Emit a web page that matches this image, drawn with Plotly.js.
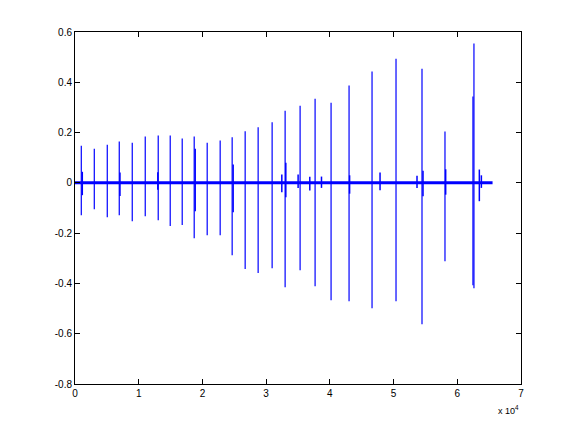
<!DOCTYPE html>
<html>
<head>
<meta charset="utf-8">
<script src="https://cdn.plot.ly/plotly-3.0.1.min.js"></script>
<style>html,body{margin:0;padding:0;background:#fff;}#chart{width:576px;height:432px;}</style>
</head>
<body>
<div id="chart"></div>
<script>
// Main spikes: sample index, positive peak, negative peak
var spikeX  = [988, 3027, 5065, 6947, 8985, 11024, 13062, 14945, 16826, 18708, 20747, 22785, 24667, 26706, 28744, 30940, 32978, 35330, 37683, 40191, 43014, 46621, 50384, 54462, 58068, 62458, 62615];
var spikeHi = [0.148, 0.136, 0.152, 0.164, 0.160, 0.184, 0.188, 0.188, 0.176, 0.184, 0.160, 0.168, 0.181, 0.205, 0.221, 0.241, 0.287, 0.307, 0.335, 0.319, 0.387, 0.443, 0.494, 0.454, 0.204, 0.343, 0.554];
var spikeLo = [-0.129, -0.105, -0.137, -0.129, -0.153, -0.133, -0.149, -0.172, -0.168, -0.220, -0.208, -0.208, -0.288, -0.343, -0.359, -0.340, -0.415, -0.348, -0.411, -0.467, -0.471, -0.499, -0.471, -0.562, -0.312, -0.407, -0.419];

// Smaller secondary bursts around the baseline
var burstX  = [1145, 7057, 13000, 18865, 24824, 32460, 33088, 35017, 36851, 38686, 43100, 47876, 53678, 54620, 58178, 63462, 63780];
var burstHi = [0.044, 0.041, 0.042, 0.136, 0.073, 0.033, 0.080, 0.033, 0.024, 0.025, 0.030, 0.041, 0.028, 0.048, 0.054, 0.053, 0.030];
var burstLo = [-0.049, -0.052, -0.027, -0.113, -0.117, -0.037, -0.057, -0.020, -0.030, -0.020, -0.043, -0.029, -0.020, -0.053, -0.047, -0.073, -0.020];

// Baseline extent
var baseX = [0, 65536];
var baseY = [0, 0];

var xTickVals = [0, 10000, 20000, 30000, 40000, 50000, 60000, 70000];
var xTickText = ["0", "1", "2", "3", "4", "5", "6", "7"];
var yTickVals = [-0.8, -0.6, -0.4, -0.2, 0, 0.2, 0.4, 0.6];
var yTickText = ["-0.8", "-0.6", "-0.4", "-0.2", "0", "0.2", "0.4", "0.6"];

function segs(xs, hi, lo) {
  var x = [], y = [];
  for (var i = 0; i < xs.length; i++) {
    x.push(xs[i], xs[i], null);
    y.push(lo[i], hi[i], null);
  }
  return {x: x, y: y};
}
var s = segs(spikeX, spikeHi, spikeLo);
var b = segs(burstX, burstHi, burstLo);

var blue = '#0000ff';
var traces = [
  {x: baseX, y: baseY, mode: 'lines', line: {color: blue, width: 3}, hoverinfo: 'skip'},
  {x: b.x, y: b.y, mode: 'lines', line: {color: blue, width: 1.5}, connectgaps: false, hoverinfo: 'skip'},
  {x: s.x, y: s.y, mode: 'lines', line: {color: blue, width: 1.2}, connectgaps: false, hoverinfo: 'skip'}
];

var axisCommon = {
  showgrid: false, zeroline: false, showline: true, linecolor: '#000', linewidth: 1,
  mirror: 'allticks', ticks: 'inside', ticklen: 5, tickcolor: '#000', tickwidth: 1,
  tickfont: {family: 'Liberation Sans, Arial, sans-serif', size: 10, color: '#000'},
  tickmode: 'array', fixedrange: true
};

var layout = {
  width: 576, height: 432,
  margin: {l: 75, r: 54.6, t: 32.4, b: 47.5, pad: 0},
  paper_bgcolor: '#fff', plot_bgcolor: '#fff',
  showlegend: false,
  xaxis: Object.assign({}, axisCommon, {range: [0, 70000], tickvals: xTickVals, ticktext: xTickText}),
  yaxis: Object.assign({}, axisCommon, {range: [-0.8, 0.6], tickvals: yTickVals, ticktext: yTickText}),
  annotations: [{
    text: 'x 10<sup>4</sup>', xref: 'paper', yref: 'paper', x: 1.0, y: -0.075,
    xanchor: 'right', yanchor: 'middle', showarrow: false,
    font: {family: 'Liberation Sans, Arial, sans-serif', size: 9, color: '#000'}
  }]
};

Plotly.newPlot('chart', traces, layout, {staticPlot: true, displayModeBar: false});
</script>
</body>
</html>
